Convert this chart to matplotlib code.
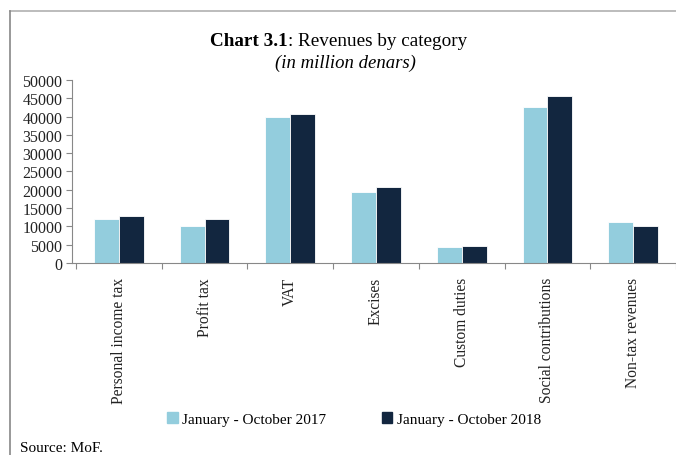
import numpy as np
import matplotlib.pyplot as plt
from matplotlib.lines import Line2D
from matplotlib.patches import Patch

categories = ['Personal income tax', 'Profit tax', 'VAT', 'Excises',
              'Custom duties', 'Social contributions', 'Non-tax revenues']
rev_2017 = [12000, 10000, 40000, 19400, 4400, 42700, 11200]
rev_2018 = [12800, 12100, 40600, 20700, 4550, 45700, 10000]
labels = ['January - October 2017', 'January - October 2018']
yticks = np.arange(0, 50001, 5000)

c17 = '#93cddd'
c18 = '#12263f'
font = 'Liberation Serif'
plt.rcParams['font.family'] = font

W, H = 676, 456
fig = plt.figure(figsize=(W / 100, H / 100), dpi=100)
ax = fig.add_axes([72 / W, 192 / H, 604 / W, 183 / H])

x = np.arange(len(categories))
bw = 0.29
ax.bar(x - bw / 2, rev_2017, bw, color=c17, edgecolor='white', linewidth=0.6)
ax.bar(x + bw / 2, rev_2018, bw, color=c18, edgecolor='white', linewidth=0.6)

ax.set_xlim(-0.547, 6.477)
ax.set_ylim(0, 50000)
ax.set_yticks(yticks)
ax.set_yticklabels([str(v) for v in yticks], fontsize=11.5, color='#222222')
ax.set_xticks(x)
ax.set_xticklabels(categories, rotation=90, fontsize=11.2, color='#222222', va='top')
ax.set_xticks(np.arange(-0.5, 7, 1), minor=True)
ax.tick_params(axis='x', which='major', length=0, pad=10)
ax.tick_params(axis='x', which='minor', length=4, color='#888888', width=0.8)
ax.tick_params(axis='y', length=4, color='#888888', width=0.8, pad=3)
for s in ['top', 'right']:
    ax.spines[s].set_visible(False)
for s in ['left', 'bottom']:
    ax.spines[s].set_color('#888888')
    ax.spines[s].set_linewidth(0.8)

# title
ty = (H - 42) / H
fig.text(288 / W, ty, 'Chart 3.1', ha='right', va='center', fontsize=13.8, weight='bold')
fig.text(288 / W, ty, ': Revenues by category', ha='left', va='center', fontsize=13.8)
fig.text(345 / W, (H - 63) / H, '(in million denars)', ha='center', va='center',
         fontsize=13.5, style='italic')

handles = [Patch(color=c17), Patch(color=c18)]
fig.legend(handles, labels, loc='center', bbox_to_anchor=(354 / W, (H - 420) / H),
           ncol=2, frameon=False, fontsize=11, handlelength=0.7, handleheight=0.7,
           handletextpad=0.3, columnspacing=3.6)

fig.text(20 / W, (H - 449) / H, 'Source: MoF.', ha='left', va='center', fontsize=11)

# frame lines
fig.add_artist(Line2D([10 / W, 1], [(H - 12) / H] * 2, color='#b0b0b0', lw=1.2))
fig.add_artist(Line2D([10 / W] * 2, [0, (H - 12) / H], color='#888888', lw=1.2))

fig.savefig('out.png', dpi=100)
